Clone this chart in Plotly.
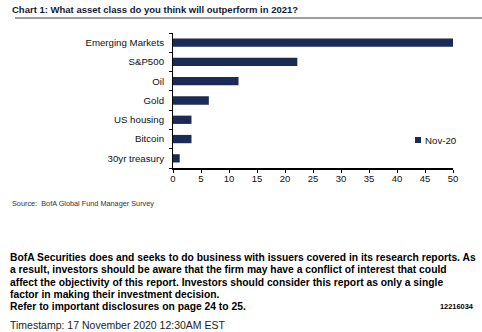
import plotly.graph_objects as go

categories = ["Emerging Markets", "S&P500", "Oil", "Gold", "US housing", "Bitcoin", "30yr treasury"]
values = [50.0, 22.2, 11.7, 6.4, 3.3, 3.3, 1.2]
series_name = "Nov-20"
x_ticks = [0, 5, 10, 15, 20, 25, 30, 35, 40, 45, 50]

W, H = 482, 332
L, R, T, B = 173, 453, 33, 168
navy = "#1c2a56"

fig = go.Figure()
fig.add_trace(go.Bar(
    y=categories, x=values, orientation="h",
    marker=dict(color=navy, line=dict(width=0)),
    showlegend=False, name=series_name,
))

def px(x):
    return (x - L) / (R - L)

def py(y):
    return (B - y) / (B - T)

fig.update_layout(
    width=W, height=H,
    margin=dict(l=L, r=W - R, t=T, b=H - B, pad=0, autoexpand=False),
    paper_bgcolor="white", plot_bgcolor="white",
    bargap=0.57,
    font=dict(family="Liberation Sans, Arial, sans-serif", size=9.5, color="#111111"),
    xaxis=dict(
        range=[0, 50], tickvals=x_ticks, showgrid=False, zeroline=False,
        showline=True, linecolor="#000000", linewidth=2,
        ticks="outside", ticklen=3, tickcolor="#000000", tickwidth=1,
        tickfont=dict(size=9.5), ticklabelstandoff=-2, fixedrange=True,
    ),
    yaxis=dict(
        categoryorder="array", categoryarray=categories[::-1],
        autorange=False, range=[-0.5, len(categories) - 0.5],
        showgrid=False, zeroline=False, showline=True, linecolor="#000000", linewidth=1,
        ticks="outside", ticklen=3, tickcolor="#000000", tickson="boundaries",
        ticklabelstandoff=6, tickfont=dict(size=9.7),
    ),
    showlegend=False,
)

# legend (manual swatch + label)
fig.add_shape(type="rect", xref="paper", yref="paper",
              x0=px(415), x1=px(421), y0=py(143), y1=py(137),
              fillcolor=navy, line=dict(width=0))
fig.add_annotation(text=series_name, x=px(423), y=py(140.5), xref="paper", yref="paper",
                   xanchor="left", yanchor="middle", showarrow=False,
                   font=dict(size=9.7, family="Liberation Sans, Arial, sans-serif", color="#111111"))

# title line
fig.add_shape(type="line", xref="paper", yref="paper",
              x0=px(15), x1=px(482), y0=py(18), y1=py(18),
              line=dict(color="#3c4150", width=1))

annos = [
    dict(text="<b>Chart 1: What asset class do you think will outperform in 2021?</b>",
         x=px(10), y=py(9.5), size=9.5, family="Liberation Sans Narrow, Arial Narrow, Liberation Sans, sans-serif", color="#141a33"),
    dict(text="Source:  BofA Global Fund Manager Survey",
         x=px(10), y=py(203), size=7.3, family="Liberation Sans Narrow, Arial Narrow, Liberation Sans, sans-serif", color="#333333"),
    dict(text="<b>BofA Securities does and seeks to do business with issuers covered in its research reports. As</b>",
         x=px(8), y=py(257), size=10.3, family="Liberation Sans, Arial, sans-serif", color="#000000"),
    dict(text="<b>a result, investors should be aware that the firm may have a conflict of interest that could</b>",
         x=px(8), y=py(269.5), size=10.3, family="Liberation Sans, Arial, sans-serif", color="#000000"),
    dict(text="<b>affect the objectivity of this report. Investors should consider this report as only a single</b>",
         x=px(8), y=py(282), size=10.3, family="Liberation Sans, Arial, sans-serif", color="#000000"),
    dict(text="<b>factor in making their investment decision.</b>",
         x=px(8), y=py(294), size=10.3, family="Liberation Sans, Arial, sans-serif", color="#000000"),
    dict(text="<b>Refer to important disclosures on page 24 to 25.</b>",
         x=px(8), y=py(306), size=10.3, family="Liberation Sans, Arial, sans-serif", color="#000000"),
    dict(text="Timestamp: 17 November 2020 12:30AM EST",
         x=px(8), y=py(325), size=10.5, family="Liberation Sans, Arial, sans-serif", color="#222222"),
]
for a in annos:
    fig.add_annotation(text=a["text"], x=a["x"], y=a["y"], xref="paper", yref="paper",
                       xanchor="left", yanchor="middle", showarrow=False,
                       font=dict(size=a["size"], family=a["family"], color=a["color"]))

fig.add_annotation(text="<b>12216034</b>", x=px(476), y=py(306), xref="paper", yref="paper",
                   xanchor="right", yanchor="middle", showarrow=False,
                   font=dict(size=7.4, family="Liberation Sans, Arial, sans-serif", color="#000000"))

fig.write_html("out.html")
